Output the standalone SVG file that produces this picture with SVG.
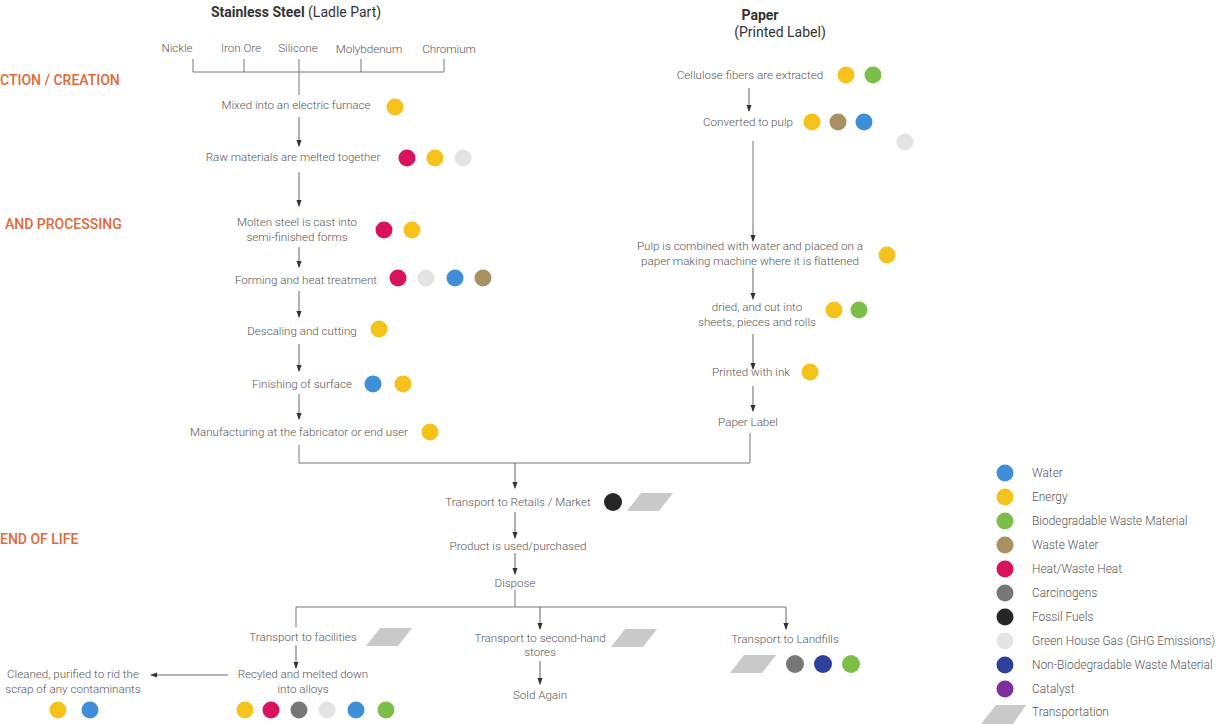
<svg xmlns="http://www.w3.org/2000/svg" width="1219" height="724" viewBox="0 0 1219 724">
  <defs>
    <marker id="arr" viewBox="0 0 8 8" refX="7" refY="4" markerWidth="7" markerHeight="7" markerUnits="userSpaceOnUse" orient="auto">
      <path d="M0,1 L8,4 L0,7 Z" fill="#333"/>
    </marker>
    <polygon id="truck" points="14,0 46,0 32,18 0,18" fill="#c9c9c9"/>
  </defs>
  <style>
    text { font-family: Roboto, "Liberation Sans", sans-serif; font-size: 11.6px; font-weight: 300; fill: #555; }
    .mid { text-anchor: middle; }
    .title { font-size: 14px; font-weight: 400; fill: #333; }
    .b { font-weight: 700; }
    .phase { font-size: 14px; font-weight: 500; fill: #e0693a; }
    .leg { font-size: 11.9px; }
    .ln { stroke: #777; stroke-width: 1; fill: none; }
    .ar { stroke: #666; stroke-width: 1; fill: none; marker-end: url(#arr); }
    .water { fill: #3f8fd8; }
    .energy { fill: #f5c21b; }
    .bio { fill: #7cbf48; }
    .ww { fill: #a99062; }
    .heat { fill: #d8125e; }
    .carc { fill: #777777; }
    .fossil { fill: #262626; }
    .ghg { fill: #e4e4e4; }
    .nonbio { fill: #2e3f9c; }
    .cat { fill: #7d2f9e; }
  </style>
  <rect width="1219" height="724" fill="#ffffff"/>

  <!-- phase labels -->
  <g id="phases">
    <text class="phase" x="0" y="85">CTION / CREATION</text>
    <text class="phase" x="5" y="229">AND PROCESSING</text>
    <text class="phase" x="0" y="544">END OF LIFE</text>
  </g>

  <!-- column headers -->
  <g id="header-steel">
    <text class="title mid" x="296" y="17"><tspan class="b">Stainless Steel</tspan> (Ladle Part)</text>
  </g>
  <g id="header-paper">
    <text class="title mid b" x="760" y="20">Paper</text>
    <text class="title mid" x="780" y="37">(Printed Label)</text>
  </g>

  <!-- connectors -->
  <g id="connectors">
    <!-- raw material bracket -->
    <path class="ln" d="M193,59 V72 M244,59 V72 M299,59 V72 M361,59 V72 M444,59 V72 M193,72 H444 M299,72 V95"/>
    <path class="ar" d="M299,117 V146"/>
    <path class="ar" d="M299,172 V206"/>
    <path class="ar" d="M299,247 V267"/>
    <path class="ar" d="M299,291 V317"/>
    <path class="ar" d="M299,344 V371"/>
    <path class="ar" d="M299,394 V419"/>
    <!-- paper column -->
    <path class="ar" d="M749,88 V111"/>
    <path class="ln" d="M753,141 V225"/>
    <path class="ar" d="M753,225 V241"/>
    <path class="ar" d="M753,268 V299"/>
    <path class="ar" d="M753,334 V369"/>
    <path class="ar" d="M753,386 V411"/>
    <!-- merge into distribution -->
    <path class="ln" d="M299,445 V463 H750 V433"/>
    <path class="ar" d="M515,463 V488"/>
    <path class="ar" d="M515,512 V538"/>
    <path class="ar" d="M515,553 V574"/>
    <!-- disposal branches -->
    <path class="ln" d="M515,590 V607 M296,607 H786 M296,607 V627"/>
    <path class="ar" d="M296,645 V668"/>
    <path class="ar" d="M540,607 V629"/>
    <path class="ar" d="M786,607 V629"/>
    <path class="ar" d="M540,661 V684"/>
    <path class="ar" d="M228,675 H151"/>
  </g>

  <!-- raw materials -->
  <g id="raw-materials">
    <text class="mid" x="177" y="52">Nickle</text>
    <text class="mid" x="241" y="52">Iron Ore</text>
    <text class="mid" x="298" y="52">Silicone</text>
    <text class="mid" x="369" y="53">Molybdenum</text>
    <text class="mid" x="449" y="53">Chromium</text>
  </g>

  <!-- stainless steel steps -->
  <g id="s-furnace">
    <text class="mid" x="296" y="109">Mixed into an electric furnace</text>
    <circle class="energy" cx="395" cy="107" r="8.5"/>
  </g>
  <g id="s-melt">
    <text class="mid" x="293" y="161">Raw materials are melted together</text>
    <circle class="heat" cx="407" cy="158" r="8.5"/>
    <circle class="energy" cx="435" cy="158" r="8.5"/>
    <circle class="ghg" cx="463" cy="158" r="8.5"/>
  </g>
  <g id="s-cast">
    <text class="mid" x="297" y="226">Molten steel is cast into</text>
    <text class="mid" x="297" y="241">semi-finished forms</text>
    <circle class="heat" cx="384" cy="230" r="8.5"/>
    <circle class="energy" cx="412" cy="230" r="8.5"/>
  </g>
  <g id="s-forming">
    <text class="mid" x="306" y="284">Forming and heat treatment</text>
    <circle class="heat" cx="398" cy="278" r="8.5"/>
    <circle class="ghg" cx="426" cy="278" r="8.5"/>
    <circle class="water" cx="455" cy="278" r="8.5"/>
    <circle class="ww" cx="483" cy="278" r="8.5"/>
  </g>
  <g id="s-descale">
    <text class="mid" x="302" y="335">Descaling and cutting</text>
    <circle class="energy" cx="379" cy="329" r="8.5"/>
  </g>
  <g id="s-finish">
    <text class="mid" x="302" y="388">Finishing of surface</text>
    <circle class="water" cx="373" cy="384" r="8.5"/>
    <circle class="energy" cx="403" cy="384" r="8.5"/>
  </g>
  <g id="s-manufacture">
    <text class="mid" x="299" y="436">Manufacturing at the fabricator or end user</text>
    <circle class="energy" cx="430" cy="432" r="8.5"/>
  </g>

  <!-- paper steps -->
  <g id="p-cellulose">
    <text class="mid" x="750" y="79">Cellulose fibers are extracted</text>
    <circle class="energy" cx="846" cy="75" r="8.5"/>
    <circle class="bio" cx="873" cy="75" r="8.5"/>
  </g>
  <g id="p-pulp">
    <text class="mid" x="748" y="126">Converted to pulp</text>
    <circle class="energy" cx="812" cy="122" r="8.5"/>
    <circle class="ww" cx="838" cy="122" r="8.5"/>
    <circle class="water" cx="864" cy="122" r="8.5"/>
    <circle class="ghg" cx="905" cy="142" r="8.5"/>
  </g>
  <g id="p-machine">
    <text class="mid" x="750" y="250">Pulp is combined with water and placed on a</text>
    <text class="mid" x="750" y="265">paper making machine where it is flattened</text>
    <circle class="energy" cx="887" cy="255" r="8.5"/>
  </g>
  <g id="p-dried">
    <text class="mid" x="757" y="311">dried, and cut into</text>
    <text class="mid" x="757" y="326">sheets, pieces and rolls</text>
    <circle class="energy" cx="834" cy="310" r="8.5"/>
    <circle class="bio" cx="859" cy="310" r="8.5"/>
  </g>
  <g id="p-printed">
    <text class="mid" x="751" y="376">Printed with ink</text>
    <circle class="energy" cx="810" cy="372" r="8.5"/>
  </g>
  <g id="p-label">
    <text class="mid" x="748" y="426">Paper Label</text>
  </g>

  <!-- distribution and use -->
  <g id="retail">
    <text class="mid" x="518" y="506">Transport to Retails / Market</text>
    <circle class="fossil" cx="613" cy="502" r="9"/>
    <use href="#truck" x="627" y="493"/>
  </g>
  <g id="used">
    <text class="mid" x="518" y="550">Product is used/purchased</text>
  </g>
  <g id="dispose">
    <text class="mid" x="515" y="587">Dispose</text>
  </g>

  <!-- end of life branches -->
  <g id="facilities">
    <text class="mid" x="303" y="641">Transport to facilities</text>
    <use href="#truck" x="366" y="628"/>
  </g>
  <g id="recycled">
    <text class="mid" x="303" y="678">Recyled and melted down</text>
    <text class="mid" x="303" y="693">into alloys</text>
    <circle class="energy" cx="245" cy="710" r="8.5"/>
    <circle class="heat" cx="271" cy="710" r="8.5"/>
    <circle class="carc" cx="299" cy="710" r="8.5"/>
    <circle class="ghg" cx="327" cy="710" r="8.5"/>
    <circle class="water" cx="356" cy="710" r="8.5"/>
    <circle class="bio" cx="386" cy="710" r="8.5"/>
  </g>
  <g id="cleaned">
    <text class="mid" x="73" y="678">Cleaned, purified to rid the</text>
    <text class="mid" x="73" y="693">scrap of any contaminants</text>
    <circle class="energy" cx="58" cy="710" r="8.5"/>
    <circle class="water" cx="90" cy="710" r="8.5"/>
  </g>
  <g id="second-hand">
    <text class="mid" x="540" y="642">Transport to second-hand</text>
    <text class="mid" x="540" y="656">stores</text>
    <use href="#truck" x="611" y="629"/>
  </g>
  <g id="sold-again">
    <text class="mid" x="540" y="699">Sold Again</text>
  </g>
  <g id="landfills">
    <text class="mid" x="785" y="643">Transport to Landfills</text>
    <use href="#truck" x="730" y="655"/>
    <circle class="carc" cx="795" cy="664" r="9"/>
    <circle class="nonbio" cx="823" cy="664" r="9"/>
    <circle class="bio" cx="851" cy="664" r="9"/>
  </g>

  <!-- legend -->
  <g id="legend">
    <circle class="water" cx="1005" cy="473" r="8.5"/>
    <text class="leg" x="1032" y="477">Water</text>
    <circle class="energy" cx="1005" cy="497" r="8.5"/>
    <text class="leg" x="1032" y="501">Energy</text>
    <circle class="bio" cx="1005" cy="521" r="8.5"/>
    <text class="leg" x="1032" y="525">Biodegradable Waste Material</text>
    <circle class="ww" cx="1005" cy="545" r="8.5"/>
    <text class="leg" x="1032" y="549">Waste Water</text>
    <circle class="heat" cx="1005" cy="569" r="8.5"/>
    <text class="leg" x="1032" y="573">Heat/Waste Heat</text>
    <circle class="carc" cx="1005" cy="593" r="8.5"/>
    <text class="leg" x="1032" y="597">Carcinogens</text>
    <circle class="fossil" cx="1005" cy="617" r="8.5"/>
    <text class="leg" x="1032" y="621">Fossil Fuels</text>
    <circle class="ghg" cx="1005" cy="641" r="8.5"/>
    <text class="leg" x="1032" y="645">Green House Gas (GHG Emissions)</text>
    <circle class="nonbio" cx="1005" cy="665" r="8.5"/>
    <text class="leg" x="1032" y="669">Non-Biodegradable Waste Material</text>
    <circle class="cat" cx="1005" cy="689" r="8.5"/>
    <text class="leg" x="1032" y="693">Catalyst</text>
    <polygon points="996,705 1026,705 1013,724 981,724" fill="#c9c9c9"/>
    <text class="leg" x="1032" y="716">Transportation</text>
  </g>
</svg>
